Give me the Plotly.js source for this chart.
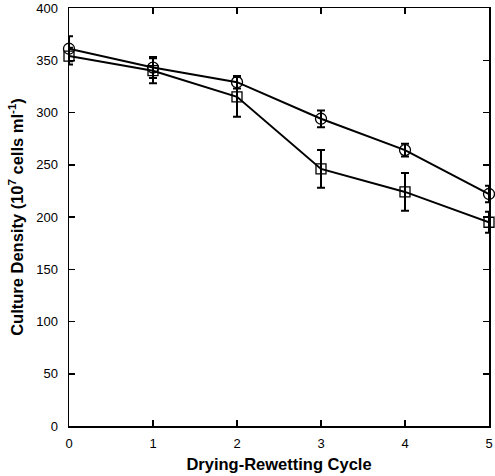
<!DOCTYPE html>
<html>
<head>
<meta charset="utf-8">
<script src="https://cdn.plot.ly/plotly-3.0.1.min.js"></script>
<style>html,body{margin:0;padding:0;background:#fff}#chart{width:495px;height:476px}</style>
</head>
<body>
<div id="chart"></div>
<script>
const cycles = [0, 1, 2, 3, 4, 5];
const circleValues = [361, 343, 329, 294, 264, 222];
const circleErrors = [12, 10, 6, 8, 6, 8];
const squareValues = [354, 340, 315, 246, 224, 195];
const squareErrors = [8, 12, 19, 18, 18, 10];
const xTickVals = [0, 1, 2, 3, 4, 5];
const yTickVals = [0, 50, 100, 150, 200, 250, 300, 350, 400];

function series(y, err, symbol, size) {
  return {
    x: cycles, y: y, type: 'scatter', mode: 'lines+markers',
    line: {color: '#000', width: 2},
    marker: {symbol: symbol, size: size, color: '#000', line: {width: 1.3}},
    error_y: {type: 'data', array: err, visible: true, color: '#000', thickness: 2, width: 4},
    cliponaxis: false, showlegend: false
  };
}

const data = [
  series(squareValues, squareErrors, 'square-open', 10),
  series(circleValues, circleErrors, 'circle-open', 11)
];

const axisCommon = {
  showline: true, linecolor: '#000', linewidth: 1.5, mirror: 'ticks',
  ticks: 'inside', ticklen: 6, tickwidth: 1.5, tickcolor: '#000',
  showgrid: false, zeroline: false,
  tickfont: {family: 'Liberation Sans, Arial, sans-serif', size: 13, color: '#000'}
};

const layout = {
  width: 495, height: 476,
  margin: {l: 69, r: 6, t: 8, b: 50},
  paper_bgcolor: '#fff', plot_bgcolor: '#fff',
  xaxis: Object.assign({}, axisCommon, {
    range: [0, 5], tickvals: xTickVals, ticklabelstandoff: 5,
    title: {text: '<b>Drying-Rewetting Cycle</b>', standoff: 8,
      font: {family: 'Liberation Sans, Arial, sans-serif', size: 16.5, color: '#000'}}
  }),
  yaxis: Object.assign({}, axisCommon, {
    range: [0, 400], tickvals: yTickVals, ticklabelstandoff: 7,
    title: {text: '<b>Culture Density (10<sup>7</sup> cells ml<sup>-1</sup>)</b>', standoff: 8,
      font: {family: 'Liberation Sans, Arial, sans-serif', size: 16.5, color: '#000'}}
  })
};

Plotly.newPlot('chart', data, layout, {displayModeBar: false, staticPlot: true});
</script>
</body>
</html>
